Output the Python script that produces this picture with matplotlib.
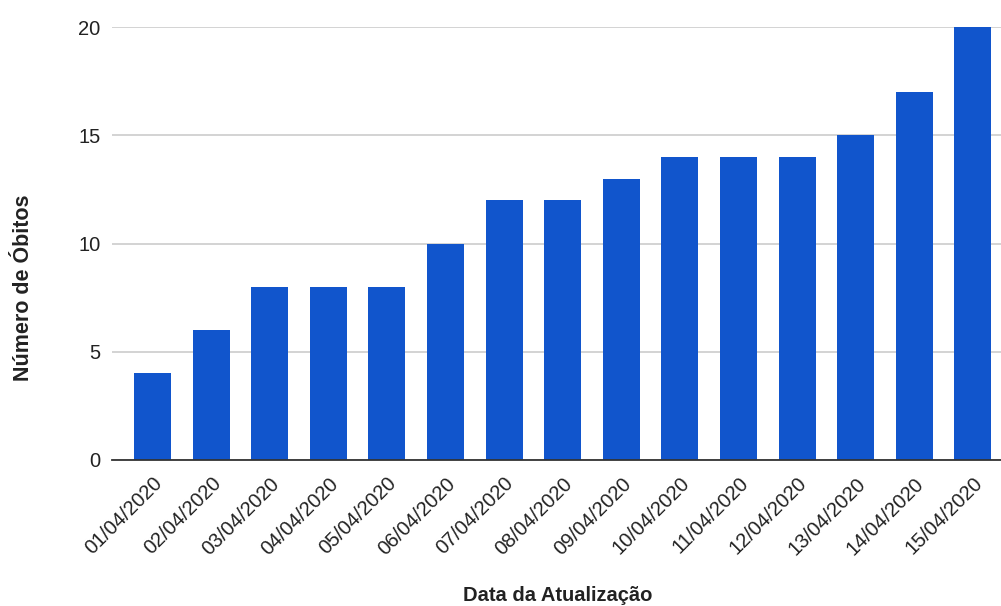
import numpy as np
import matplotlib

matplotlib.use('Agg')
import matplotlib.pyplot as plt

# Data
datas = ["01/04/2020", "02/04/2020", "03/04/2020", "04/04/2020", "05/04/2020",
         "06/04/2020", "07/04/2020", "08/04/2020", "09/04/2020", "10/04/2020",
         "11/04/2020", "12/04/2020", "13/04/2020", "14/04/2020", "15/04/2020"]
obitos = [4, 6, 8, 8, 8, 10, 12, 12, 13, 14, 14, 14, 15, 17, 20]
y_ticks = [0, 5, 10, 15, 20]


def main():
    plt.rcParams['font.family'] = ['Liberation Sans', 'DejaVu Sans']

    fig = plt.figure(figsize=(10.01, 6.06), dpi=100)
    ax = fig.add_axes([0.112, 0.241, 0.888, 0.714])

    x = np.arange(len(datas))
    ax.bar(x, obitos, width=0.63, color='#1155cc', zorder=3)

    ax.set_xlim(-0.69, 14.48)
    ax.set_ylim(0, 20)
    ax.set_yticks(y_ticks)
    ax.set_xticks(x)
    ax.set_xticklabels(datas, rotation=45, ha='right', va='top',
                       rotation_mode='anchor', fontsize=14.5, color='#222222')
    ax.tick_params(axis='y', labelsize=14.5, labelcolor='#222222', length=0, pad=8.5)
    ax.tick_params(axis='x', length=0, pad=10)

    ax.grid(axis='y', color='#cccccc', linewidth=1.2, zorder=0)
    for side in ['top', 'right', 'left']:
        ax.spines[side].set_visible(False)
    ax.spines['bottom'].set_color('#333333')
    ax.spines['bottom'].set_linewidth(1.3)
    ax.spines['bottom'].set_zorder(4)

    fig.text(0.0235, 0.525, "Número de Óbitos", rotation=90, ha='center', va='center',
             fontsize=15.5, fontweight='bold', color='#222222')
    fig.text(0.557, 0.018, "Data da Atualização", ha='center', va='center',
             fontsize=14.5, fontweight='bold', color='#222222')

    fig.savefig("out.png", dpi=100)
    plt.close(fig)


if __name__ == "__main__":
    main()
